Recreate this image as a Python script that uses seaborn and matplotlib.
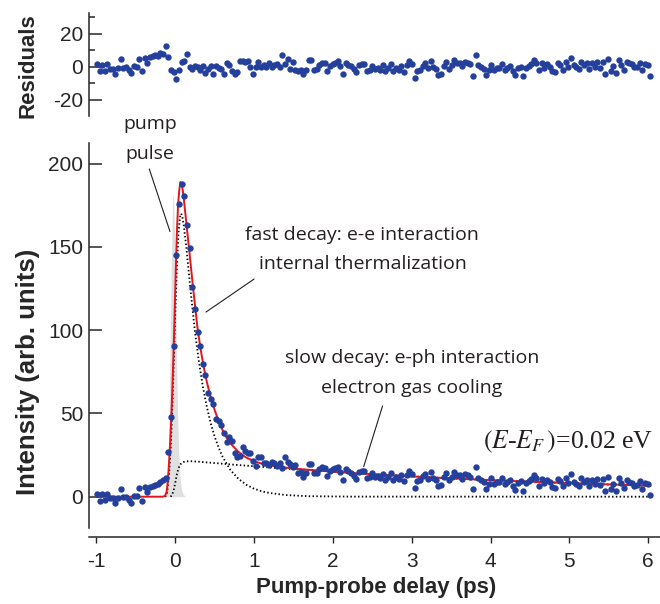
import matplotlib
matplotlib.use('Agg')
import matplotlib.pyplot as plt
import seaborn as sns
from matplotlib.ticker import FixedLocator

# pump-probe delay of each measured point (ps)
delay_ps = [
    -0.995, -0.961, -0.928, -0.894, -0.861, -0.827, -0.793, -0.760, -0.726, -0.693,
    -0.659, -0.625, -0.592, -0.558, -0.525, -0.491, -0.457, -0.424, -0.390, -0.357,
    -0.323, -0.289, -0.256, -0.222, -0.189, -0.155, -0.121, -0.088, -0.054, -0.021,
    0.013, 0.047, 0.080, 0.114, 0.147, 0.181, 0.215, 0.248, 0.282, 0.315,
    0.349, 0.383, 0.416, 0.450, 0.483, 0.517, 0.551, 0.584, 0.618, 0.651,
    0.685, 0.719, 0.752, 0.786, 0.819, 0.853, 0.887, 0.920, 0.954, 0.987,
    1.021, 1.055, 1.088, 1.122, 1.155, 1.189, 1.223, 1.256, 1.290, 1.323,
    1.357, 1.391, 1.424, 1.458, 1.491, 1.525, 1.559, 1.592, 1.626, 1.659,
    1.693, 1.727, 1.760, 1.794, 1.827, 1.861, 1.895, 1.928, 1.962, 1.995,
    2.029, 2.063, 2.096, 2.130, 2.163, 2.197, 2.231, 2.264, 2.298, 2.331,
    2.365, 2.399, 2.432, 2.466, 2.499, 2.533, 2.567, 2.600, 2.634, 2.667,
    2.701, 2.735, 2.768, 2.802, 2.835, 2.869, 2.903, 2.936, 2.970, 3.003,
    3.037, 3.071, 3.104, 3.138, 3.171, 3.205, 3.239, 3.272, 3.306, 3.339,
    3.373, 3.407, 3.440, 3.474, 3.507, 3.541, 3.575, 3.608, 3.642, 3.675,
    3.709, 3.743, 3.776, 3.810, 3.843, 3.877, 3.911, 3.944, 3.978, 4.011,
    4.045, 4.079, 4.112, 4.146, 4.179, 4.213, 4.247, 4.280, 4.314, 4.347,
    4.381, 4.415, 4.448, 4.482, 4.515, 4.549, 4.583, 4.616, 4.650, 4.683,
    4.717, 4.751, 4.784, 4.818, 4.851, 4.885, 4.919, 4.952, 4.986, 5.019,
    5.053, 5.087, 5.120, 5.154, 5.187, 5.221, 5.255, 5.288, 5.322, 5.355,
    5.389, 5.423, 5.456, 5.490, 5.523, 5.557, 5.591, 5.624, 5.658, 5.691,
    5.725, 5.759, 5.792, 5.826, 5.859, 5.893, 5.927, 5.960, 5.994, 6.027,
]

# measured intensity (arb. units)
intensity = [
    1.8, -2.6, 1.4, -2.2, 1.8, -1.0, -1.0, -4.0, -1.0, 4.6,
    -0.4, -0.2, -2.0, -3.8, 0.6, 0.2, 5.0, -2.4, 5.6, 2.6,
    6.0, 6.4, 7.0, 7.6, 8.8, 10.0, 11.4, 26.7, 48.0, 90.7,
    145.0, 176.0, 188.0, 180.6, 163.0, 149.4, 125.8, 112.7, 98.7, 90.7,
    79.5, 73.0, 62.5, 58.5, 55.7, 46.5, 45.7, 43.0, 38.4, 33.0,
    36.0, 33.6, 26.4, 24.0, 24.5, 30.0, 27.6, 26.4, 26.4, 21.6,
    18.7, 23.8, 23.8, 20.0, 20.4, 19.0, 21.0, 20.0, 18.4, 20.0,
    17.0, 24.0, 21.0, 19.6, 18.0, 19.0, 14.4, 14.7, 12.0, 14.1,
    19.9, 19.8, 14.1, 14.3, 16.8, 17.7, 17.5, 12.4, 15.3, 16.5,
    17.0, 17.9, 14.8, 10.1, 16.6, 15.5, 14.4, 12.7, 10.6, 14.7,
    15.6, 15.5, 11.2, 11.7, 14.0, 11.9, 12.2, 11.0, 13.9, 10.3,
    11.9, 14.4, 10.0, 11.6, 10.4, 12.8, 9.3, 13.3, 15.7, 13.5,
    5.4, 9.4, 9.8, 12.4, 13.8, 10.9, 15.1, 11.5, 9.8, 6.2,
    7.2, 11.6, 14.2, 9.9, 12.0, 15.0, 13.0, 13.3, 10.9, 13.8,
    13.1, 12.1, 4.7, 17.6, 11.3, 10.2, 8.6, 4.9, 7.9, 11.2,
    7.8, 8.8, 8.8, 11.3, 7.5, 8.6, 10.0, 6.7, 4.2, 8.3,
    9.2, 3.4, 8.1, 9.4, 10.8, 13.0, 11.0, 6.7, 10.9, 8.1,
    10.3, 8.6, 6.0, 5.4, 10.9, 9.3, 6.2, 11.4, 8.2, 13.4,
    9.1, 7.7, 6.5, 11.1, 8.9, 9.9, 6.7, 10.2, 7.7, 10.7,
    6.9, 10.6, 3.4, 11.9, 4.7, 7.9, 3.6, 11.3, 8.2, 5.3,
    10.2, 9.1, 8.4, 6.6, 6.9, 9.2, 4.7, 8.2, 7.7, 0.8,
]

# fit residuals
residuals = [
    1.6, -2.8, 1.2, -2.8, 1.6, -1.2, -1.2, -4.2, -0.8, 4.6,
    -0.8, -0.4, -1.8, -3.8, 0.6, -0.2, 4.8, -2.8, 5.4, 2.4,
    5.6, 6.6, 7.0, 6.2, 8.6, 7.8, 12.6, 5.8, -1.8, -3.2,
    -7.2, -1.8, 2.8, 3.4, 7.4, -0.4, -1.4, 0.6, -0.4, -2.2,
    0.2, -3.8, -1.4, 0.6, -4.4, 0.6, -0.8, -1.4, -4.2, 2.2,
    1.0, -2.8, -4.4, -3.0, 3.6, 3.2, 2.6, 3.6, -0.2, -4.4,
    -0.4, 2.6, -0.2, 1.2, -0.2, 2.2, -0.4, 1.2, 1.6, -0.4,
    6.8, 1.6, 4.6, -1.4, 2.6, -2.2, -2.8, -1.8, -4.4, -2.2,
    3.8, 3.8, -1.8, -1.4, 1.2, 2.2, 2.2, -2.8, 0.2, 1.6,
    2.2, 3.2, 0.2, -4.4, 2.2, 1.2, 0.2, -1.4, -3.4, 0.8,
    1.8, 1.8, -2.4, -1.8, 0.6, -1.4, -1.0, -2.1, 0.8, -2.7,
    -1.0, 1.6, -2.7, -1.0, -2.1, 0.4, -3.1, 1.0, 3.5, 1.4,
    -6.6, -2.5, -2.1, 0.6, 2.1, -0.8, 3.5, 0.0, -1.6, -5.2,
    -4.1, 0.4, 3.1, -1.2, 1.0, 4.1, 2.1, 2.5, 0.2, 3.1,
    2.5, 1.6, -5.8, 7.2, 1.0, 0.0, -1.6, -5.2, -2.1, 1.2,
    -2.1, -1.0, -1.0, 1.6, -2.1, -1.0, 0.5, -2.7, -5.2, -1.0,
    0.0, -5.8, -1.0, 0.4, 1.8, 4.1, 2.1, -2.1, 2.1, -0.6,
    1.6, 0.0, -2.5, -3.1, 2.5, 0.9, -2.1, 3.1, 0.0, 5.2,
    1.0, -0.4, -1.5, 3.1, 1.0, 2.1, -1.1, 2.5, 0.0, 3.1,
    -0.7, 3.1, -4.1, 4.5, -2.7, 0.6, -3.7, 4.1, 1.0, -1.8,
    3.1, 2.1, 1.4, -0.3, 0.0, 2.4, -2.1, 1.5, 1.0, -5.8,
]

# total fit (red)
fit_t = [-0.995, -0.16, -0.13, -0.11, -0.10, -0.085, -0.07, -0.055, -0.04, -0.025,
         -0.01, 0.005, 0.02, 0.035, 0.05, 0.065, 0.08, 0.095, 0.11, 0.13,
         0.15, 0.17, 0.19, 0.22, 0.25, 0.28, 0.32, 0.36, 0.40, 0.45,
         0.50, 0.55, 0.60, 0.65, 0.70, 0.80, 0.90, 1.00, 1.10, 1.25,
         1.50, 2.00, 2.50, 3.00, 3.50, 4.00, 4.50, 5.00, 5.50, 6.03]
fit_total = [0, 0, 0.5, 3, 7, 16, 28, 43, 61, 82,
             107, 134, 158, 175, 184, 189, 188, 184, 178, 169,
             160, 151, 142, 128, 115, 102, 89, 78, 69, 59.5,
             52, 45.5, 40, 35.5, 32, 27, 23.5, 21.3, 19.8, 18.4,
             16.9, 15.0, 13.5, 12.2, 11.0, 10.0, 9.0, 8.2, 7.4, 6.6]

# fast component (e-e)
fast_t = [-0.13, -0.11, -0.10, -0.08, -0.06, -0.04, -0.02, 0.00, 0.02, 0.04,
          0.06, 0.075, 0.09, 0.11, 0.13, 0.15, 0.20, 0.25, 0.30, 0.35,
          0.40, 0.45, 0.50, 0.55, 0.60, 0.70, 0.80, 0.90, 1.00, 1.10,
          1.20, 1.40, 1.70, 2.20, 6.03]
fast_val = [0, 1, 4, 13, 28, 50, 80, 110, 138, 158,
            168, 170, 168, 162, 154, 145, 121, 99, 81, 66,
            54, 44, 36, 29.5, 24, 16, 10.8, 7.2, 4.8, 3.2,
            2.2, 1.0, 0.3, 0.05, 0]

# slow component (e-ph)
slow_t = [-0.06, -0.04, -0.02, 0.00, 0.02, 0.04, 0.06, 0.09, 0.13, 0.20,
          0.30, 0.50, 0.75, 1.00, 1.25, 1.50, 2.00, 2.50, 3.00, 3.50,
          4.00, 4.50, 5.00, 5.50, 6.03]
slow_val = [0, 1, 4, 8.5, 13.5, 17, 19.2, 20.6, 21.2, 21.3,
            21.0, 20.2, 19.2, 18.3, 17.4, 16.6, 15.0, 13.5, 12.2, 11.0,
            9.9, 9.0, 8.1, 7.3, 6.6]

# pump pulse profile (grey)
pulse_t = [-0.16, -0.13, -0.11, -0.09, -0.075, -0.06, -0.045, -0.035, -0.03, -0.02,
           -0.01, 0.00, 0.01, 0.02, 0.03, 0.045, 0.06, 0.08, 0.10, 0.13]
pulse_val = [0, 1, 5, 25, 60, 110, 155, 177, 182, 176,
             158, 130, 100, 72, 48, 25, 12, 4, 1.5, 0]

x_ticks = [-1, 0, 1, 2, 3, 4, 5, 6]
y_ticks = [0, 50, 100, 150, 200]
res_ticks = [-20, 0, 20]
res_minor = [-10, 10, 30]

blue = '#243f9c'
red = '#e3151d'
ink = '#231f20'

sns.set_style('ticks')
plt.rcParams['font.family'] = ['Liberation Sans', 'DejaVu Sans']
plt.rcParams['mathtext.fontset'] = 'stix'

fig = plt.figure(figsize=(6.6, 6.04), dpi=100)
ax = fig.add_axes([0.1353, 0.1258, 0.8647, 0.6369])
axr = fig.add_axes([0.1353, 0.8084, 0.8647, 0.1695])

# main panel
ax.fill_between(pulse_t, 0, pulse_val, color='#e0e0e0', lw=0, zorder=1)
sns.lineplot(x=fast_t, y=fast_val, ax=ax, color='black', lw=1.3, linestyle=(0, (0.8, 1.3)),
             estimator=None, sort=False, zorder=2)
sns.lineplot(x=slow_t, y=slow_val, ax=ax, color='black', lw=1.3, linestyle=(0, (0.8, 1.3)),
             estimator=None, sort=False, zorder=2)
sns.lineplot(x=fit_t, y=fit_total, ax=ax, color=red, lw=1.4,
             estimator=None, sort=False, zorder=3)
sns.scatterplot(x=delay_ps, y=intensity, ax=ax, color=blue, s=21, linewidth=0, zorder=4)

ax.set_xlim(-1.091, 6.15)
ax.set_ylim(-18.8, 212.2)
ax.set_xticks(x_ticks)
ax.set_yticks(y_ticks)
ax.set_xticklabels([str(v) for v in x_ticks])
ax.set_yticklabels([str(v) for v in y_ticks])
for s in ['top', 'right']:
    ax.spines[s].set_visible(False)
ax.spines['bottom'].set_position(('outward', 6.5))
for s in ['left', 'bottom']:
    ax.spines[s].set_linewidth(1.1)
ax.tick_params(axis='y', direction='in', length=9, width=1.1, pad=4.5, labelsize=15)
ax.tick_params(axis='x', direction='out', length=4.5, width=1.0, pad=6, labelsize=15)
ax.set_xlabel('')
ax.set_ylabel('')

# residuals panel
sns.scatterplot(x=delay_ps, y=residuals, ax=axr, color=blue, s=21, linewidth=0, zorder=4)
axr.set_xlim(-1.091, 6.15)
axr.set_ylim(-29.5, 32.2)
axr.yaxis.set_major_locator(FixedLocator(res_ticks))
axr.yaxis.set_minor_locator(FixedLocator(res_minor))
axr.set_yticklabels([str(v) for v in res_ticks])
for s in ['top', 'right', 'bottom']:
    axr.spines[s].set_visible(False)
axr.spines['left'].set_linewidth(1.1)
axr.set_xticks([])
axr.tick_params(axis='y', which='major', direction='in', length=9, width=1.1, pad=4.5, labelsize=15)
axr.tick_params(axis='y', which='minor', direction='in', length=4.5, width=1.1)
axr.set_xlabel('')
axr.set_ylabel('')

# axis titles
fig.text(28 / 660, 1 - 372 / 604, 'Intensity (arb. units)', rotation=90, ha='center', va='center',
         fontsize=18.5, fontweight='bold')
fig.text(28 / 660, 1 - 66 / 604, 'Residuals', rotation=90, ha='center', va='center',
         fontsize=16, fontweight='bold')
fig.text(376 / 660, 1 - 588 / 604, 'Pump-probe delay (ps)', ha='center', va='center',
         fontsize=16, fontweight='bold')

# annotations
note_font = dict(family=['Open Sans', 'DejaVu Sans'], fontsize=14, color=ink, ha='center', va='center')
ax.text(-0.32, 224, 'pump', **note_font)
ax.text(-0.32, 206, 'pulse', **note_font)
ax.text(2.37, 157, 'fast decay: e-e interaction', **note_font)
ax.text(2.38, 140, 'internal thermalization', **note_font)
ax.text(3.0, 83, 'slow decay: e-ph interaction', **note_font)
ax.text(3.0, 65, 'electron gas cooling', **note_font)

leader_lines = [((-0.33, 196.8), (-0.067, 159.2)),
                ((1.0, 130.7), (0.39, 110.9)),
                ((2.63, 54.5), (2.39, 18.0))]
for (x0, y0), (x1, y1) in leader_lines:
    ax.plot([x0, x1], [y0, y1], color=ink, lw=0.8, clip_on=False, zorder=5)

ax.text(3.9, 29, r'$(E$-$E_F\,)$=0.02 eV', family=['Liberation Serif', 'DejaVu Serif'],
        fontsize=18.5, color=ink, ha='left', va='baseline')

fig.savefig('out.png', dpi=100)
